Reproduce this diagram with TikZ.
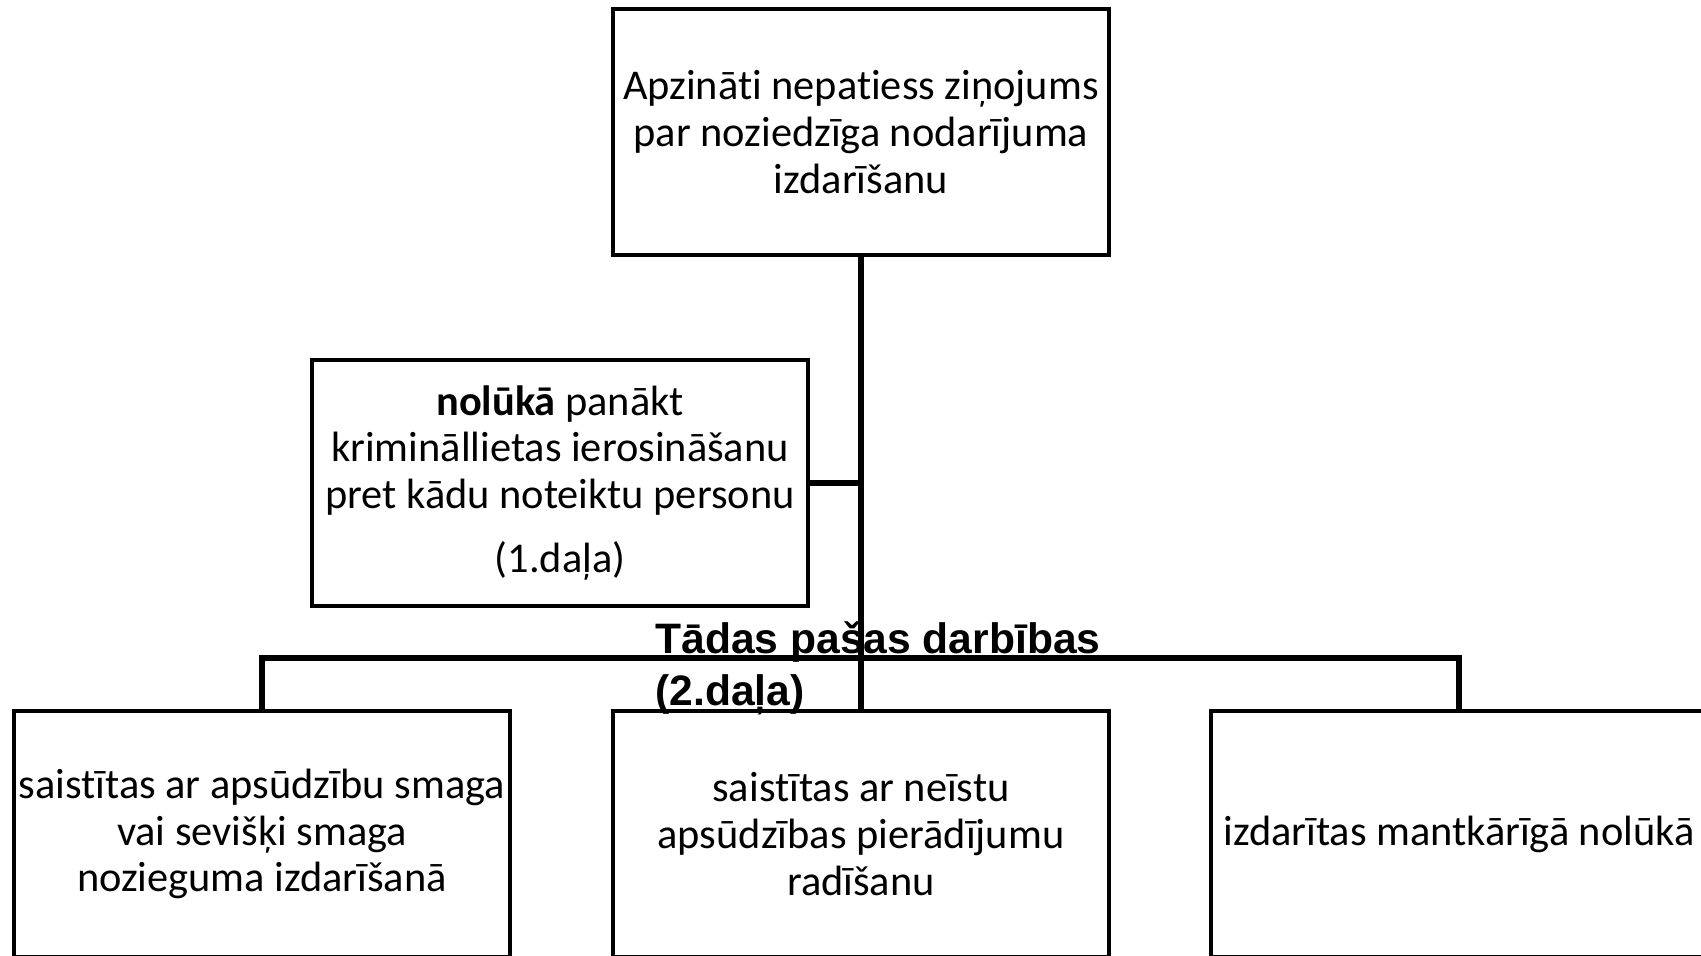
\documentclass[tikz,border=0pt]{standalone}
\usepackage{fontspec}
\setmainfont{Carlito}[RawFeature={-liga;-clig;-calt}]
\newfontfamily\headfont{Liberation Sans}
\usetikzlibrary{positioning}
\newcommand{\boxsize}{\fontsize{21.2}{23.3}\selectfont}
\newcommand{\headsize}{\fontsize{21.3}{26}\selectfont}
\tikzset{
  crime/.style={rectangle, draw=black, line width=2.2pt, align=center,
    minimum width=248pt, minimum height=123pt, inner sep=1pt, font=\boxsize},
  link/.style={draw=black, line width=2.6pt},
  heading/.style={align=left, inner sep=0pt, font=\headfont\bfseries\headsize}
}

\begin{document}
\begin{tikzpicture}[x=0.5pt, y=-0.5pt]
  \useasboundingbox (0,0) rectangle (1701,956);
  \clip (0,0) rectangle (1701,956);
  \node[crime] (report) at (861,132) {Apzināti nepatiess ziņojums\\par noziedzīga nodarījuma\\izdarīšanu};
  \node[crime] (intent) at (560,483) {\textbf{nolūkā} panākt\\krimināllietas ierosināšanu\\pret kādu noteiktu personu\\[9pt](1.daļa)};
  \node[crime] (grave) at (262,834) {saistītas ar apsūdzību smaga\\vai sevišķi smaga\\nozieguma izdarīšanā};
  \node[crime] (proof) at (861,834) {saistītas ar neīstu\\apsūdzības pierādījumu\\radīšanu};
  \node[crime] (gain) at (1459,834) {izdarītas mantkārīgā nolūkā};
  \coordinate (bar) at (861,658);
  \draw[link] (report.south) -- (proof.north);
  \draw[link] (intent.east) -- (intent.east -| report.south);
  \draw[link] (grave.north) |- (bar) -| (gain.north);
  \node[heading, anchor=west] (same) at (655,668) {Tādas pašas darbības\\(2.daļa)};
\end{tikzpicture}
\end{document}
